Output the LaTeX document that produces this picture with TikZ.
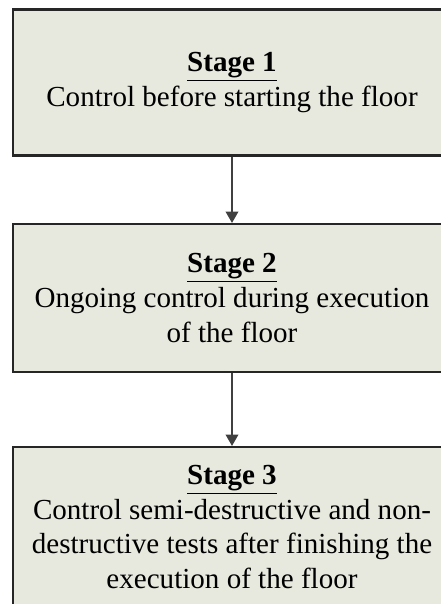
\documentclass[tikz,border=0pt]{standalone}
\usepackage{fontspec}
\setmainfont{Liberation Serif}
\usetikzlibrary{arrows.meta}
\definecolor{stagefill}{RGB}{232,233,222}
\begin{document}
\begin{tikzpicture}[x=0.75pt, y=-0.75pt,
  stagebox/.style={draw=black!85, line width=1.6pt, fill=stagefill, align=center,
    minimum width=328.5pt, font=\fontsize{21.8}{25.9}\selectfont, inner sep=0pt},
  flow/.style={draw=black!75, line width=1pt, -{Triangle[width=9.5pt,length=8.5pt]}}]
\useasboundingbox (0,0) rectangle (440,604);
\node[stagebox, minimum height=109.5pt] (st1) at (232,82.5){\underline{\textbf{Stage 1}}\\Control before starting the floor};
\node[stagebox, minimum height=111pt] (st2) at (232,298){\underline{\textbf{Stage 2}}\\Ongoing control during execution\\of the floor};
\node[stagebox, minimum height=120pt] (st3) at (232,527){\underline{\textbf{Stage 3}}\\Control semi-destructive and non-\\destructive tests after finishing the\\execution of the floor};
\draw[flow](st1) -- (st2);
\draw[flow](st2) -- (st3);
\end{tikzpicture}
\end{document}
